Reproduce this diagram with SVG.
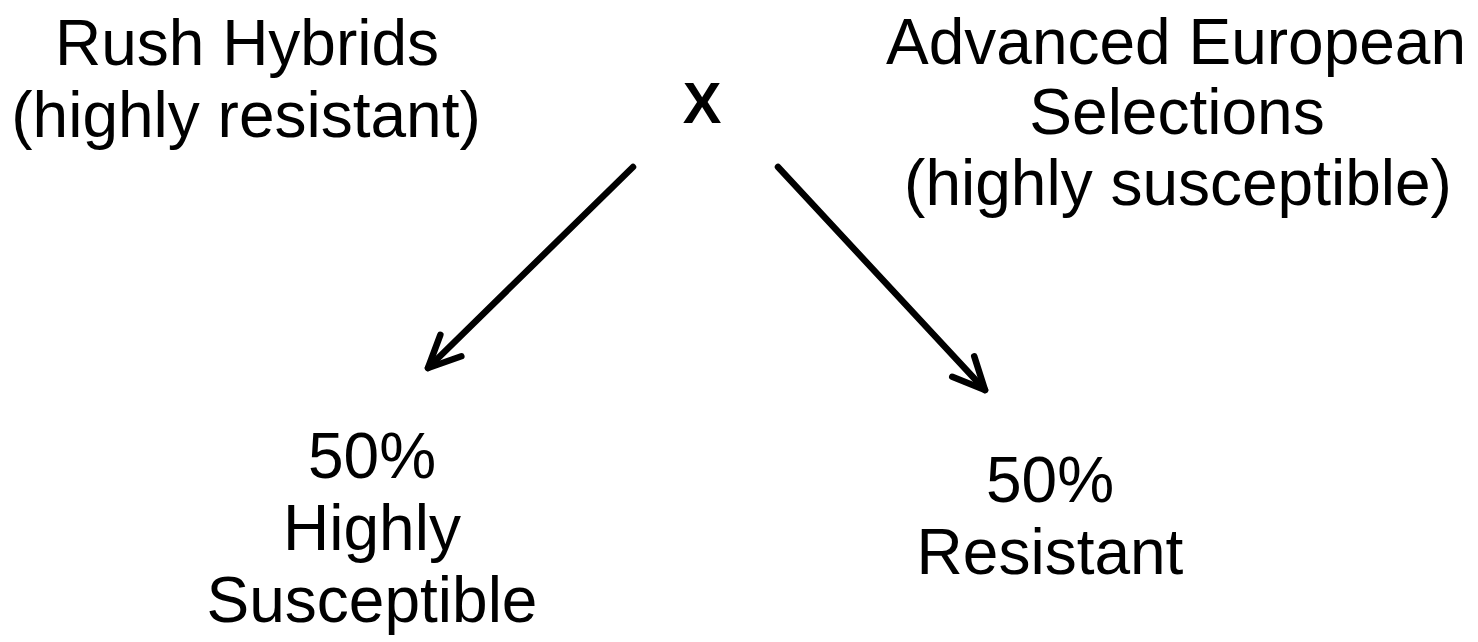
<svg xmlns="http://www.w3.org/2000/svg" width="1478" height="642" viewBox="0 0 1478 642">
<style>
.t{font-family:"Liberation Sans",Arial,sans-serif;font-size:64px;fill:#000;text-anchor:middle}
.x{font-family:"Liberation Sans",Arial,sans-serif;font-size:58px;font-weight:bold;fill:#000;text-anchor:middle}
.c{fill:none;stroke:#000;stroke-width:6.5;stroke-linecap:round;stroke-linejoin:round}
</style>
<defs>
<marker id="ah" markerUnits="userSpaceOnUse" viewBox="-40 -25 50 50" refX="0" refY="0" markerWidth="50" markerHeight="50" orient="auto" overflow="visible">
<path d="M -32 -15 L 0 0 L -32 15" fill="none" stroke="#000" stroke-width="6.5" stroke-linecap="round" stroke-linejoin="round"/>
</marker>
</defs>
<rect width="1478" height="642" fill="#fff"/>
<g id="parent1">
<text class="t" x="247" y="65">Rush Hybrids</text>
<text class="t" x="246" y="137">(highly resistant)</text>
</g>
<g id="cross">
<text class="x" x="702" y="123">X</text>
</g>
<g id="parent2">
<text class="t" x="1176" y="64">Advanced European</text>
<text class="t" x="1177" y="134">Selections</text>
<text class="t" x="1178" y="205">(highly susceptible)</text>
</g>
<g id="offspring1">
<text class="t" x="372" y="478">50%</text>
<text class="t" x="372" y="550">Highly</text>
<text class="t" x="372" y="622">Susceptible</text>
</g>
<g id="offspring2">
<text class="t" x="1050" y="502">50%</text>
<text class="t" x="1050" y="574">Resistant</text>
</g>
<g id="connectors">
<path class="c" d="M 633 167 L 428 368" marker-end="url(#ah)"/>
<path class="c" d="M 778 167 L 985 390" marker-end="url(#ah)"/>
</g>
</svg>
